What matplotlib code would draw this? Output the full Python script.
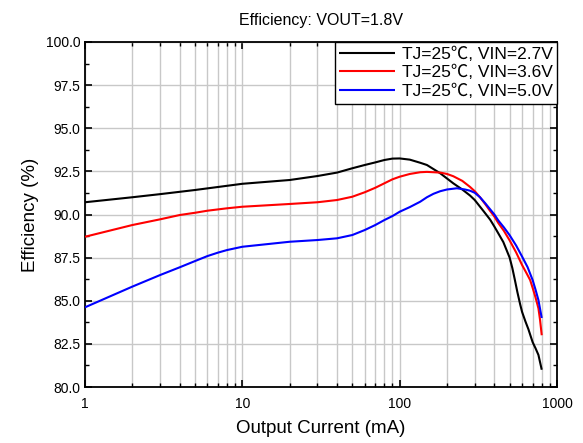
import matplotlib
matplotlib.use("Agg")
import matplotlib.pyplot as plt
from matplotlib.ticker import LogLocator, FixedLocator, MultipleLocator, NullFormatter, FormatStrFormatter

# Data
labels = ["TJ=25\u2103, VIN=2.7V", "TJ=25\u2103, VIN=3.6V", "TJ=25\u2103, VIN=5.0V"]
colors = ["black", "red", "blue"]

x_27 = [1, 2, 3, 5, 10, 20, 30, 40, 50, 60, 70, 80, 90, 100, 116, 135, 149, 181, 219, 250,
        280, 300, 341, 376, 400, 424, 456, 500, 520, 540, 560, 583, 600, 630, 658, 700, 730,
        762, 800]
y_27 = [90.71, 91.00, 91.18, 91.42, 91.78, 92.00, 92.23, 92.43, 92.68, 92.87, 93.02, 93.16,
        93.24, 93.25, 93.18, 93.00, 92.87, 92.39, 91.81, 91.45, 91.10, 90.84, 90.20, 89.70,
        89.30, 88.90, 88.40, 87.50, 86.90, 86.20, 85.50, 84.80, 84.35, 83.80, 83.35, 82.60,
        82.25, 81.86, 81.00]

x_36 = [1, 2, 3, 4, 5, 6, 8, 10, 20, 30, 40, 50, 60, 70, 80, 90, 100, 116, 135, 149, 181,
        200, 219, 250, 280, 300, 324, 350, 376, 400, 424, 460, 500, 550, 600, 640, 675, 700,
        730, 762, 780, 800]
y_36 = [88.71, 89.39, 89.72, 89.97, 90.10, 90.22, 90.36, 90.45, 90.61, 90.71, 90.84, 91.03,
        91.29, 91.55, 91.81, 92.04, 92.19, 92.35, 92.45, 92.47, 92.43, 92.35, 92.22, 91.95,
        91.60, 91.35, 91.00, 90.60, 90.20, 89.88, 89.50, 89.05, 88.50, 87.80, 87.07, 86.60,
        86.20, 85.75, 85.20, 84.56, 83.90, 83.00]

x_50 = [1, 2, 3, 4, 5, 6, 7, 8, 10, 20, 30, 40, 50, 60, 70, 80, 90, 100, 116, 135, 149, 164,
        181, 200, 231, 260, 280, 300, 324, 350, 376, 400, 424, 460, 500, 550, 600, 650, 700,
        730, 762, 800]
y_50 = [84.62, 85.82, 86.49, 86.94, 87.30, 87.59, 87.79, 87.94, 88.13, 88.42, 88.52, 88.62,
        88.81, 89.10, 89.39, 89.68, 89.91, 90.16, 90.43, 90.74, 91.00, 91.20, 91.35, 91.45,
        91.52, 91.45, 91.38, 91.26, 91.00, 90.65, 90.30, 90.00, 89.65, 89.25, 88.80, 88.20,
        87.56, 86.95, 86.20, 85.65, 85.04, 84.00]

xs = [x_27, x_36, x_50]
ys = [y_27, y_36, y_50]

plt.rcParams['font.family'] = ['Liberation Sans', 'Noto Sans CJK SC', 'DejaVu Sans']

fig = plt.figure(figsize=(5.83, 4.43), dpi=100)
ax = fig.add_axes([0.1458, 0.1264, 0.8096, 0.7788])

for x, y, c, lab in zip(xs, ys, colors, labels):
    ax.plot(x, y, color=c, lw=1.5, label=lab, zorder=3,
            solid_joinstyle='round', solid_capstyle='butt')

ax.set_xscale('log')
ax.set_xlim(1, 1000)
ax.set_ylim(80, 100)
ax.xaxis.set_major_locator(FixedLocator([1, 10, 100, 1000]))
ax.set_xticklabels(["1", "10", "100", "1000"])
ax.xaxis.set_minor_locator(LogLocator(base=10, subs=range(2, 10)))
ax.xaxis.set_minor_formatter(NullFormatter())
ax.yaxis.set_major_locator(MultipleLocator(2.5))
ax.yaxis.set_minor_locator(MultipleLocator(1.25))
ax.yaxis.set_major_formatter(FormatStrFormatter('%.1f'))

ax.grid(True, which='major', axis='both', color='#c8c8c8', lw=1.0, zorder=0)
ax.grid(True, which='minor', axis='x', color='#c8c8c8', lw=1.0, zorder=0)
ax.set_axisbelow(True)

ax.tick_params(which='both', direction='in', top=True, right=True, labelsize=10)
ax.tick_params(which='major', length=5, width=1.2)
ax.tick_params(which='minor', length=3, width=1.0)
ax.tick_params(axis='x', which='major', pad=7)

for s in ax.spines.values():
    s.set_linewidth(1.3)
    s.set_color('black')

ax.set_xlabel("Output Current (mA)", fontsize=13.5, labelpad=7)
ax.set_ylabel("Efficiency (%)", fontsize=13.5, labelpad=5)
ax.set_title("Efficiency: VOUT=1.8V", fontsize=11.5, pad=12)

leg = ax.legend(loc='upper right', fontsize=12.5, frameon=True, fancybox=False,
                borderaxespad=0.0, handlelength=3.2, handletextpad=0.4,
                labelspacing=0.2, borderpad=0.25)
leg.get_frame().set_edgecolor('black')
leg.get_frame().set_linewidth(1.0)
leg.get_frame().set_alpha(1.0)

fig.savefig("out.png", dpi=100)
